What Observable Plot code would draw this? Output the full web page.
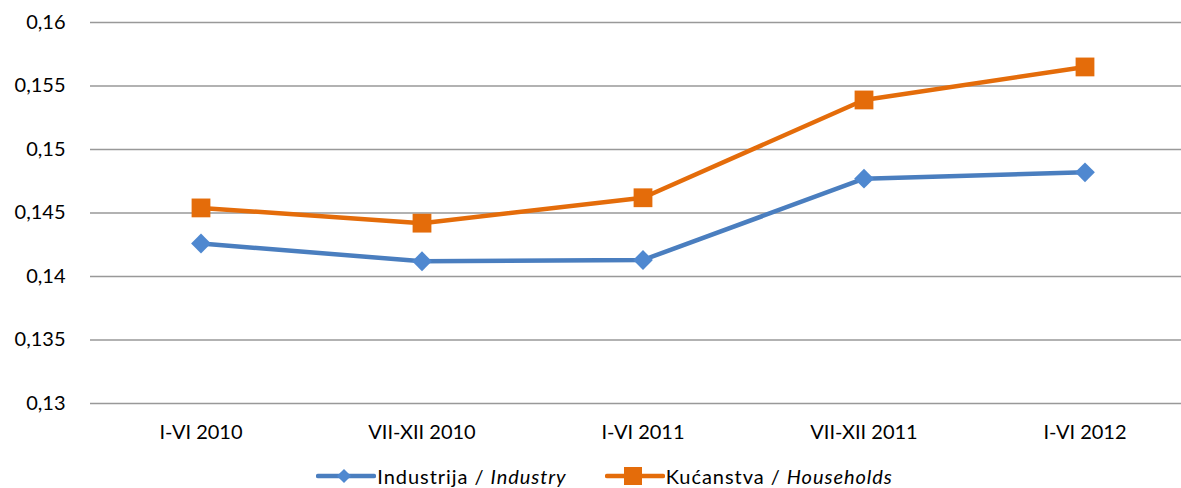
<!DOCTYPE html>
<html>
<head>
<meta charset="utf-8">
<script src="https://cdn.jsdelivr.net/npm/d3@7"></script>
<script src="https://cdn.jsdelivr.net/npm/@observablehq/plot@0.6"></script>
<style>
  html, body { margin: 0; padding: 0; background: #fff; }
  body { width: 1181px; height: 488px; overflow: hidden; font-family: Lato, "Open Sans", sans-serif; }
  #legend { position: absolute; top: 464px; left: 0; width: 1181px; display: flex; justify-content: center; gap: 38px; font-size: 20px; letter-spacing: 0.95px; color: #000; margin-left: 14px; }
  .item { display: flex; align-items: center; gap: 1px; }
</style>
</head>
<body>
<div id="chart"></div>
<div id="legend"></div>
<script>
const categories = ["I-VI 2010", "VII-XII 2010", "I-VI 2011", "VII-XII 2011", "I-VI 2012"];
const industry = [0.1426, 0.1412, 0.1413, 0.1477, 0.1482];
const households = [0.1454, 0.1442, 0.1462, 0.1539, 0.1565];
const yTicks = [0.13, 0.135, 0.14, 0.145, 0.15, 0.155, 0.16];
const seriesNames = ["Industrija / Industry", "Kućanstva / Households"];
const colors = ["#4a7ebf", "#e46c0a"];
const markerColors = ["#4f88d0", "#e46c0a"];

const rows = [];
categories.forEach((c, i) => {
  rows.push({cat: c, value: industry[i], series: seriesNames[0]});
  rows.push({cat: c, value: households[i], series: seriesNames[1]});
});
const ind = rows.filter(d => d.series === seriesNames[0]);
const hh = rows.filter(d => d.series === seriesNames[1]);

const plot = Plot.plot({
  width: 1181,
  height: 450,
  marginLeft: 90,
  marginRight: -14,
  marginTop: 22,
  marginBottom: 47,
  style: {fontFamily: "Lato, 'Open Sans', sans-serif", fontSize: "20px", color: "#000", background: "#fff"},
  x: {type: "band", domain: categories, padding: 0, label: null},
  y: {domain: [0.13, 0.16], label: null},
  marks: [
    Plot.ruleY(yTicks, {stroke: "#999", strokeWidth: 1.6}),
    Plot.axisY({ticks: yTicks, tickSize: 0, tickPadding: 25, tickFormat: d => String(d).replace(".", ","), fontSize: 20}),
    Plot.axisX({tickSize: 0, tickPadding: 21, fontSize: 20}),
    Plot.line(ind, {x: "cat", y: "value", stroke: colors[0], strokeWidth: 4.5}),
    Plot.line(hh, {x: "cat", y: "value", stroke: colors[1], strokeWidth: 4.5}),
    Plot.dot(ind, {x: "cat", y: "value", symbol: "square", r: 7.9, rotate: 45, fill: markerColors[0], stroke: null}),
    Plot.dot(hh, {x: "cat", y: "value", symbol: "square", r: 10.6, fill: markerColors[1], stroke: null})
  ]
});
document.getElementById("chart").appendChild(plot);

// Legend
const legend = d3.select("#legend");
const parts = [["Industrija / ", "Industry"], ["Kućanstva / ", "Households"]];
parts.forEach((p, i) => {
  const item = legend.append("div").attr("class", "item");
  const svg = item.append("svg").attr("width", 60).attr("height", 22);
  svg.append("line").attr("x1", 2).attr("x2", 58).attr("y1", 11).attr("y2", 11)
    .attr("stroke", colors[i]).attr("stroke-width", 4.5).attr("stroke-linecap", "round");
  if (i === 0) {
    svg.append("rect").attr("x", -5).attr("y", -5).attr("width", 10).attr("height", 10)
      .attr("fill", markerColors[0]).attr("transform", "translate(28,11) rotate(45)");
  } else {
    svg.append("rect").attr("x", 19).attr("y", 2).attr("width", 18).attr("height", 18).attr("fill", markerColors[1]);
  }
  const t = item.append("span");
  t.append("span").text(p[0]);
  t.append("i").text(p[1]);
});
</script>
</body>
</html>
